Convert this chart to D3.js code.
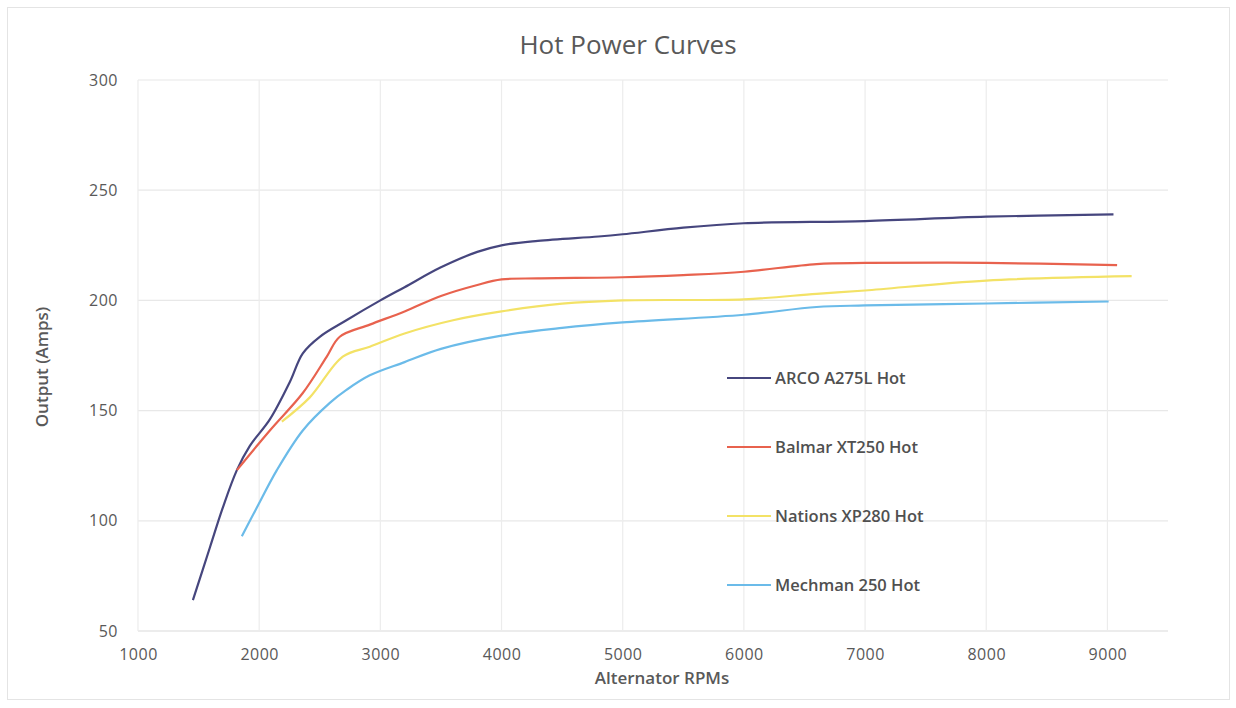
<!DOCTYPE html>
<html>
<head>
<meta charset="utf-8">
<script src="https://cdn.jsdelivr.net/npm/d3@7"></script>
<style>
  body { margin: 0; background: #fff; }
  text { font-family: "Open Sans", sans-serif; }
</style>
</head>
<body>
<script>
// series data: [rpm, amps]
const arco = [[1453,64],[1594,88],[1700,106],[1816,123],[1923,134],[2088,146],[2253,163],[2360,176],
  [2500,183.5],[2720,191],[3000,200],[3200,206],[3500,215],[3800,222],[4000,225],[4300,227],[4800,229],
  [5000,230],[5500,233],[6000,235],[7000,236],[8000,238],[9050,239]];
const balmar = [[1816,123],[2088,141],[2360,158],[2558,174.5],[2665,183.5],[2913,189],[3200,195],
  [3500,202],[3800,207],[4000,209.5],[4300,210],[5000,210.5],[5500,211.5],[6000,213],[6600,216.5],
  [7000,217],[8000,217],[9080,216]];
const nations = [[2187,145],[2418,156],[2690,174.5],[2913,179],[3200,185],[3600,191],[4000,195],
  [4500,198.5],[5000,200],[6000,200.5],[6600,203],[7000,204.5],[8000,209],[9200,211]];
const mechman = [[1857,93],[1981,106],[2146,123],[2360,141],[2583,153.5],[2723,159.5],[2913,166],
  [3200,172],[3500,178],[4000,184],[4500,187.5],[5000,190],[6000,193.5],[6600,197],[7000,197.7],
  [8000,198.6],[9010,199.5]];

const seriesNames = ["ARCO A275L Hot", "Balmar XT250 Hot", "Nations XP280 Hot", "Mechman 250 Hot"];
const seriesData = [arco, balmar, nations, mechman];
const colors = ["#46467e", "#e8624e", "#f3e266", "#6bbbe9"];

const xTicks = [1000, 2000, 3000, 4000, 5000, 6000, 7000, 8000, 9000];
const yTicks = [50, 100, 150, 200, 250, 300];

let width = 1236, height = 708;
let padding = { left: 138, right: 68, top: 80, bottom: 77 };

let svg = d3.select("body").append("svg")
  .attr("width", width)
  .attr("height", height);

// outer chart border
svg.append("rect")
  .attr("x", 7.5).attr("y", 7.5)
  .attr("width", 1222).attr("height", 692)
  .attr("fill", "#fff")
  .attr("stroke", "#e4e4e4");

let x = d3.scaleLinear().domain([1000, 9500]).range([padding.left, width - padding.right]);
let y = d3.scaleLinear().domain([50, 300]).range([height - padding.bottom, padding.top]);

// gridlines
svg.append("g").selectAll("line").data(yTicks).join("line")
  .attr("x1", x(1000)).attr("x2", x(9500))
  .attr("y1", d => y(d)).attr("y2", d => y(d))
  .attr("stroke", d => d == 50 ? "#d9d9d9" : "#e8e8e8")
  .attr("stroke-width", 1.2);
svg.append("g").selectAll("line").data(xTicks).join("line")
  .attr("x1", d => x(d)).attr("x2", d => x(d))
  .attr("y1", y(300)).attr("y2", y(50))
  .attr("stroke", "#ececec")
  .attr("stroke-width", 1.2);

// axes (labels only, Excel style)
let xAxis = svg.append("g")
  .attr("transform", "translate(0," + (y(50) + 15) + ")")
  .call(d3.axisBottom(x).tickValues(xTicks).tickSize(0).tickFormat(d3.format("d")));
let yAxis = svg.append("g")
  .attr("transform", "translate(" + (x(1000) - 17) + ",0)")
  .call(d3.axisLeft(y).tickValues(yTicks).tickSize(0));
[xAxis, yAxis].forEach(a => {
  a.select(".domain").remove();
  a.selectAll("text")
    .style("font-family", "'Open Sans', sans-serif")
    .style("font-size", "16px")
    .style("letter-spacing", "0.5px")
    .attr("fill", "#595959");
});

// lines
let line = d3.line()
  .x(d => x(d[0]))
  .y(d => y(d[1]))
  .curve(d3.curveCatmullRom.alpha(0.5));

seriesData.forEach((s, i) => {
  svg.append("path")
    .datum(s)
    .attr("fill", "none")
    .attr("stroke", colors[i])
    .attr("stroke-width", 2.2)
    .attr("stroke-linejoin", "round")
    .attr("d", line);
});

// legend
let legendY = [378, 447, 516, 585];
seriesNames.forEach((name, i) => {
  svg.append("line")
    .attr("x1", 727).attr("x2", 771)
    .attr("y1", legendY[i]).attr("y2", legendY[i])
    .attr("stroke", colors[i])
    .attr("stroke-width", 2.2);
  svg.append("text")
    .attr("x", 775)
    .attr("y", legendY[i])
    .attr("dy", "0.35em")
    .style("font-size", "16.5px")
    .style("font-weight", 600)
    .attr("fill", "#505050")
    .text(name);
});

// titles
svg.append("text")
  .attr("x", 628).attr("y", 45)
  .attr("text-anchor", "middle")
  .attr("dy", "0.35em")
  .style("font-size", "26px")
  .attr("fill", "#595959")
  .text("Hot Power Curves");

svg.append("text")
  .attr("x", 662).attr("y", 678)
  .attr("text-anchor", "middle")
  .attr("dy", "0.35em")
  .style("font-size", "17px")
  .style("font-weight", 600)
  .attr("fill", "#595959")
  .text("Alternator RPMs");

svg.append("text")
  .attr("transform", "translate(42,367) rotate(-90)")
  .attr("text-anchor", "middle")
  .attr("dy", "0.35em")
  .style("font-size", "17px")
  .style("font-weight", 600)
  .attr("fill", "#595959")
  .text("Output (Amps)");
</script>
</body>
</html>
